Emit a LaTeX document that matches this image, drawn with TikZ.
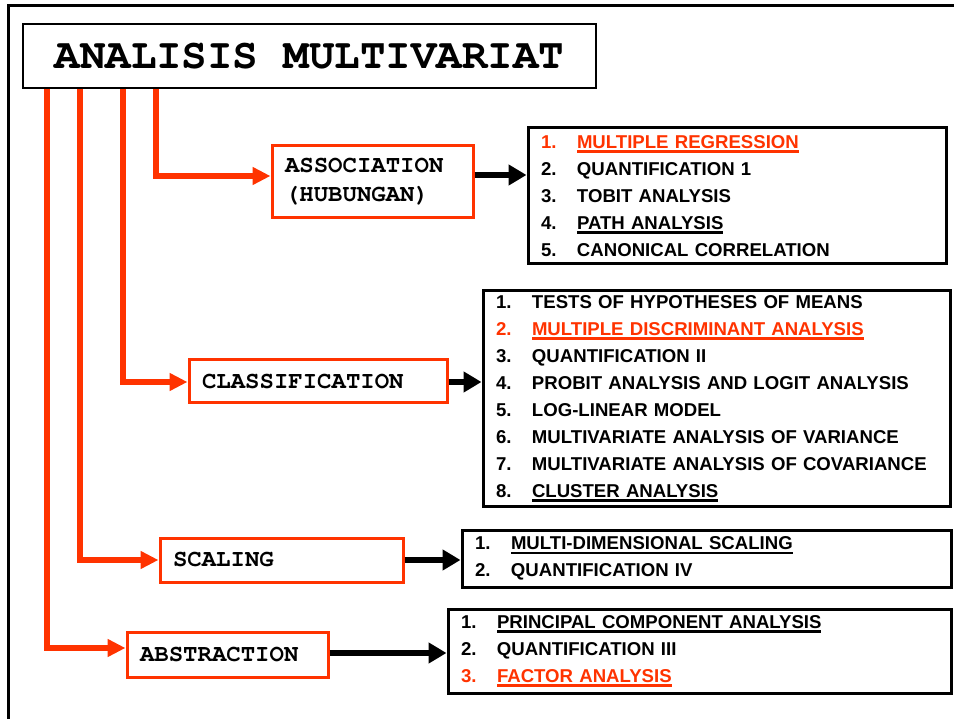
\documentclass[tikz,border=0pt]{standalone}
\usepackage{fontspec}
\setmainfont{Liberation Sans}
\setmonofont{TeX Gyre Cursor}
\usepackage{tikz}
\usetikzlibrary{arrows.meta,positioning}
\usepackage{xcolor}
\definecolor{hot}{RGB}{255,51,0}
\newcommand{\undl}[1]{\setbox0\hbox{#1}\rlap{\rule[-4.3pt]{\wd0}{2.3pt}}\box0}
\newcommand{\entry}[2]{\makebox[36pt][l]{#1}#2}
\tikzset{
  titlebox/.style={
    draw,
    line width=2pt,
    minimum width=573pt,
    minimum height=64pt,
    inner sep=0pt,
    font=\ttfamily\bfseries\fontsize{42.5}{42.5}\selectfont,
  },
  groupbox/.style={
    draw=hot,
    line width=3pt,
    inner xsep=13pt,
    inner ysep=0pt,
    align=left,
    font=\ttfamily\bfseries\fontsize{24}{29}\selectfont,
  },
  listbox/.style={
    draw,
    line width=3pt,
    inner xsep=13pt,
    inner ysep=0pt,
    align=left,
    font=\bfseries\fontsize{18.6}{27}\selectfont,
  },
  feed/.style={hot, line width=5.5pt, -{Triangle[length=18pt,width=17pt]}},
  link/.style={line width=6.5pt, -{Triangle[length=18pt,width=20pt]}},
  frame/.style={line width=2.5pt},
}

\begin{document}
\begin{tikzpicture}[x=1pt, y=-1pt]
  \useasboundingbox (0,0) rectangle (954,719);
  \draw[frame] (8.5,730) |- (960,5.5);

  \node[titlebox] (title) at (309.5,56) {ANALISIS MULTIVARIAT};

  % groups
  \node[groupbox, text width=175pt, minimum height=72pt] (assoc) at (372.5,182) {ASSOCIATION\\(HUBUNGAN)};
  \node[groupbox, text width=232pt, minimum height=43pt] (clas) at (318,381.5) {CLASSIFICATION};
  \node[groupbox, text width=217pt, minimum height=44pt] (scal) at (281.5,560) {SCALING};
  \node[groupbox, text width=175pt, minimum height=45pt] (abstr) at (227.5,654.5) {ABSTRACTION};

  % methods
  \node[listbox, text width=392pt, minimum height=136pt] (list1) at (737,196) {%
    {\color{hot}\entry{1.}{\undl{MULTIPLE REGRESSION}}}\\
    \entry{2.}{QUANTIFICATION 1}\\
    \entry{3.}{TOBIT ANALYSIS}\\
    \entry{4.}{\undl{PATH ANALYSIS}}\\
    \entry{5.}{CANONICAL CORRELATION}};
  \node[listbox, text width=441pt, minimum height=215pt] (list2) at (716.5,398.5) {%
    \entry{1.}{TESTS OF HYPOTHESES OF MEANS}\\
    {\color{hot}\entry{2.}{\undl{MULTIPLE DISCRIMINANT ANALYSIS}}}\\
    \entry{3.}{QUANTIFICATION II}\\
    \entry{4.}{PROBIT ANALYSIS AND LOGIT ANALYSIS}\\
    \entry{5.}{LOG-LINEAR MODEL}\\
    \entry{6.}{MULTIVARIATE ANALYSIS OF VARIANCE}\\
    \entry{7.}{MULTIVARIATE ANALYSIS OF COVARIANCE}\\
    \entry{8.}{\undl{CLUSTER ANALYSIS}}};
  \node[listbox, text width=463pt, minimum height=57pt] (list3) at (706.5,558.5) {%
    \entry{1.}{\undl{MULTI-DIMENSIONAL SCALING}}\\
    \entry{2.}{QUANTIFICATION IV}};
  \node[listbox, text width=477pt, minimum height=84pt] (list4) at (699.5,651) {%
    \entry{1.}{\undl{PRINCIPAL COMPONENT ANALYSIS}}\\
    \entry{2.}{QUANTIFICATION III}\\
    {\color{hot}\entry{3.}{\undl{FACTOR ANALYSIS}}}};

  % red feeds from the title
  \foreach \x/\y/\dest in {47/648/abstr, 80/560/scal, 123/382/clas, 156/176/assoc}
    \draw[feed] (title.south -| \x,0) |- (\dest.west |- 0,\y);

  % black links
  \draw[link] (assoc.east |- 0,175) -- (list1.west |- 0,175);
  \draw[link] (clas.east |- 0,382) -- (list2.west |- 0,382);
  \draw[link] (scal.east |- 0,560) -- (list3.west |- 0,560);
  \draw[link] (abstr.east |- 0,653) -- (list4.west |- 0,653);
\end{tikzpicture}
\end{document}
